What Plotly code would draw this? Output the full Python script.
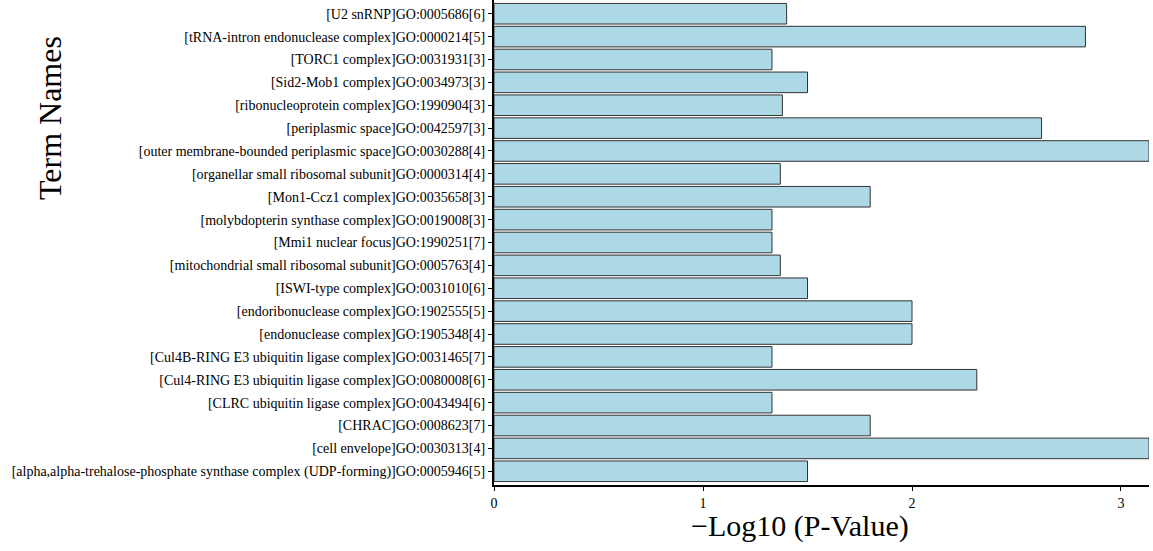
import plotly.graph_objects as go

terms = [
    "[U2 snRNP]GO:0005686[6]",
    "[tRNA-intron endonuclease complex]GO:0000214[5]",
    "[TORC1 complex]GO:0031931[3]",
    "[Sid2-Mob1 complex]GO:0034973[3]",
    "[ribonucleoprotein complex]GO:1990904[3]",
    "[periplasmic space]GO:0042597[3]",
    "[outer membrane-bounded periplasmic space]GO:0030288[4]",
    "[organellar small ribosomal subunit]GO:0000314[4]",
    "[Mon1-Ccz1 complex]GO:0035658[3]",
    "[molybdopterin synthase complex]GO:0019008[3]",
    "[Mmi1 nuclear focus]GO:1990251[7]",
    "[mitochondrial small ribosomal subunit]GO:0005763[4]",
    "[ISWI-type complex]GO:0031010[6]",
    "[endoribonuclease complex]GO:1902555[5]",
    "[endonuclease complex]GO:1905348[4]",
    "[Cul4B-RING E3 ubiquitin ligase complex]GO:0031465[7]",
    "[Cul4-RING E3 ubiquitin ligase complex]GO:0080008[6]",
    "[CLRC ubiquitin ligase complex]GO:0043494[6]",
    "[CHRAC]GO:0008623[7]",
    "[cell envelope]GO:0030313[4]",
    "[alpha,alpha-trehalose-phosphate synthase complex (UDP-forming)]GO:0005946[5]",
]
neg_log10_p = [1.40, 2.83, 1.33, 1.50, 1.38, 2.62, 3.134, 1.37, 1.80, 1.33, 1.33,
               1.37, 1.50, 2.00, 2.00, 1.33, 2.31, 1.33, 1.80, 3.134, 1.50]
x_ticks = [0, 1, 2, 3]

font_family = "Liberation Serif, Times New Roman, serif"

fig = go.Figure(go.Bar(
    x=neg_log10_p,
    y=terms,
    orientation="h",
    width=0.9,
    marker=dict(color="#ADD8E6", line=dict(color="#333333", width=1)),
))

fig.update_layout(
    width=1153, height=551,
    margin=dict(l=494, r=4, t=0, b=66, autoexpand=False),
    paper_bgcolor="white", plot_bgcolor="white",
    font=dict(family=font_family, color="black"),
    showlegend=False,
    bargap=0.1,
)
fig.update_xaxes(
    range=[0, max(neg_log10_p)],
    tickvals=x_ticks,
    ticks="outside", ticklen=4, tickcolor="black",
    tickfont=dict(size=14, family=font_family, color="black"),
    showline=True, linecolor="black", linewidth=2,
    showgrid=False, zeroline=False, automargin=False,
)
fig.update_yaxes(
    categoryorder="array", categoryarray=terms,
    autorange=False, range=[len(terms) - 0.4, -0.6],
    ticks="outside", ticklen=4, tickcolor="black",
    tickfont=dict(size=14, family=font_family, color="black"),
    showline=True, linecolor="black", linewidth=2,
    showgrid=False, zeroline=False, automargin=False,
)
fig.add_annotation(
    text="\u2212Log10 (P-Value)", xref="paper", yref="paper",
    x=(800 - 494) / (1149 - 494), y=-41 / 485, xanchor="center", yanchor="middle",
    showarrow=False, font=dict(size=30, family=font_family, color="black"),
)
fig.add_annotation(
    text="Term Names", xref="paper", yref="paper",
    x=(50 - 494) / (1149 - 494), y=(485 - 118) / 485, xanchor="center", yanchor="middle",
    textangle=-90, showarrow=False,
    font=dict(size=32, family=font_family, color="black"),
)

fig.write_html("out.html", config={"displayModeBar": False},
               post_script="document.body.style.margin='0';")
